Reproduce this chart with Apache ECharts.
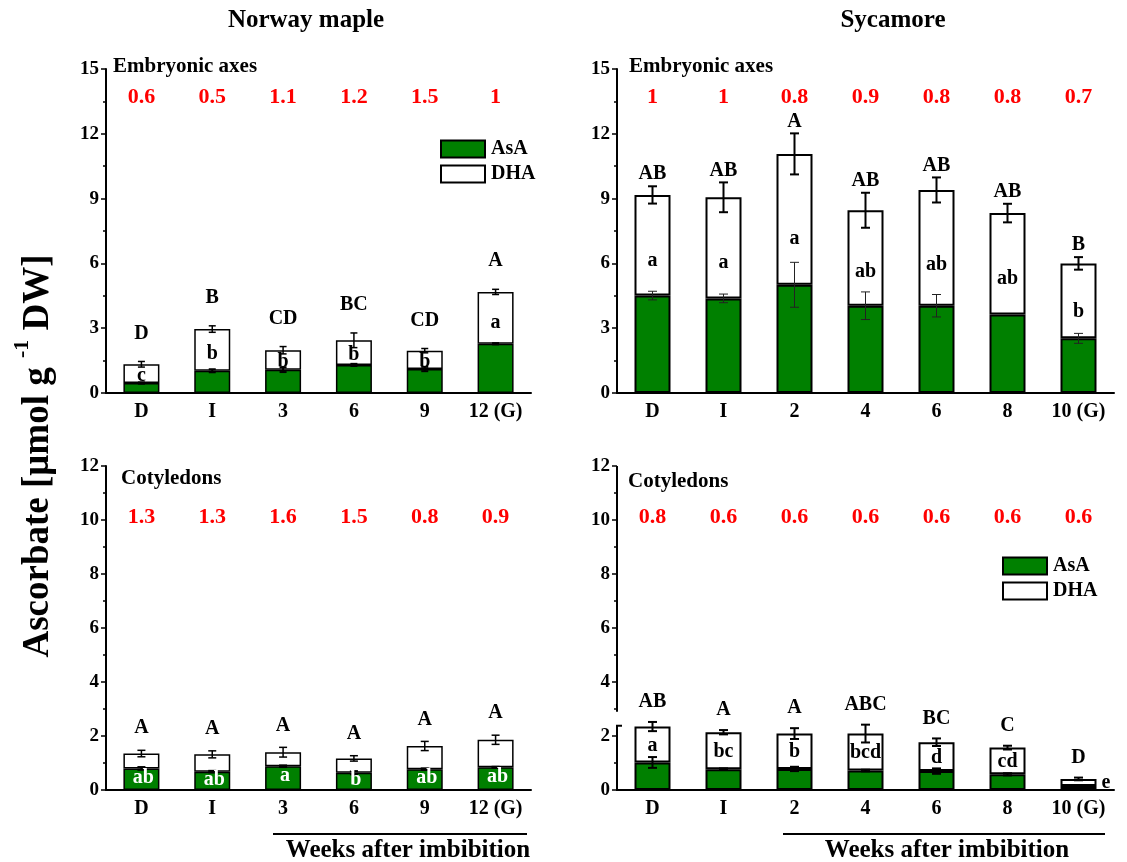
<!DOCTYPE html>
<html>
<head>
<meta charset="utf-8">
<script src="https://cdn.jsdelivr.net/npm/echarts@6/dist/echarts.min.js"></script>
<style>
  html, body { margin: 0; padding: 0; background: #ffffff; }
  #chart { width: 1127px; height: 862px; }
</style>
</head>
<body>
<div id="chart"></div>
<script>
// ---------- Norway maple: embryonic axes ----------
const nmCats = ['D', 'I', '3', '6', '9', '12 (G)'];
const nmAxesAsA = [0.46, 1.03, 1.08, 1.30, 1.11, 2.28];
const nmAxesAsAErr = [0.03, 0.07, 0.11, 0.05, 0.10, 0.03];
const nmAxesTotal = [1.33, 2.96, 1.98, 2.44, 1.96, 4.68];
const nmAxesTotalErr = [0.13, 0.15, 0.17, 0.34, 0.10, 0.12];
const nmAxesUpper = ['D', 'B', 'CD', 'BC', 'CD', 'A'];
const nmAxesLower = ['c', 'b', 'b', 'b', 'b', 'a'];
const nmAxesRatio = ['0.6', '0.5', '1.1', '1.2', '1.5', '1'];

// ---------- Sycamore: embryonic axes ----------
const syCats = ['D', 'I', '2', '4', '6', '8', '10 (G)'];
const syAxesAsA = [4.51, 4.38, 5.01, 4.04, 4.04, 3.63, 2.53];
const syAxesAsAErr = [0.20, 0.20, 1.04, 0.64, 0.52, 0.00, 0.23];
const syAxesTotal = [9.17, 9.06, 11.07, 8.46, 9.40, 8.33, 6.00];
const syAxesTotalErr = [0.40, 0.69, 0.95, 0.81, 0.58, 0.43, 0.29];
const syAxesUpper = ['AB', 'AB', 'A', 'AB', 'AB', 'AB', 'B'];
const syAxesLower = ['a', 'a', 'a', 'ab', 'ab', 'ab', 'b'];
const syAxesRatio = ['1', '1', '0.8', '0.9', '0.8', '0.8', '0.7'];

// ---------- Norway maple: cotyledons ----------
const nmCotAsA = [0.80, 0.68, 0.88, 0.64, 0.77, 0.84];
const nmCotAsAErr = [0.05, 0.03, 0.03, 0.06, 0.03, 0.02];
const nmCotTotal = [1.35, 1.32, 1.40, 1.17, 1.63, 1.86];
const nmCotTotalErr = [0.12, 0.13, 0.18, 0.10, 0.17, 0.17];
const nmCotUpper = ['A', 'A', 'A', 'A', 'A', 'A'];
const nmCotLower = ['ab', 'ab', 'a', 'b', 'ab', 'ab'];
const nmCotRatio = ['1.3', '1.3', '1.6', '1.5', '0.8', '0.9'];

// ---------- Sycamore: cotyledons ----------
const syCotAsA = [1.02, 0.77, 0.78, 0.72, 0.70, 0.58, 0.15];
const syCotAsAErr = [0.20, 0.03, 0.08, 0.03, 0.10, 0.04, 0.02];
const syCotTotal = [2.35, 2.14, 2.09, 2.09, 1.77, 1.57, 0.41];
const syCotTotalErr = [0.17, 0.08, 0.20, 0.33, 0.14, 0.07, 0.05];
const syCotUpper = ['AB', 'A', 'A', 'ABC', 'BC', 'C', 'D'];
const syCotLower = ['a', 'bc', 'b', 'bcd', 'd', 'cd', 'e'];
const syCotRatio = ['0.8', '0.6', '0.6', '0.6', '0.6', '0.6', '0.6'];

// y-axis ticks
const axesTicks = { max: 15, interval: 3 };
const cotTicks = { max: 12, interval: 2 };

const FONT = '"Liberation Serif", "Times New Roman", serif';
const GREEN = '#008000';
const BAR_W = 36;

const panels = [
  { grid: { left: 106, top: 69, width: 425, height: 324 }, cats: nmCats, ticks: axesTicks,
    asa: nmAxesAsA, asaErr: nmAxesAsAErr, total: nmAxesTotal, totalErr: nmAxesTotalErr,
    upper: nmAxesUpper, lower: nmAxesLower, ratio: nmAxesRatio,
    ratioLevel: 13.7, upGap: 28, lowMode: 'dha', lowFrac: 0.4,
    bw: 1.5, errW: 1.5, asaErrW: 2, asaErrColor: '#000', cap: 3.5 },
  { grid: { left: 617, top: 69, width: 497, height: 324 }, cats: syCats, ticks: axesTicks,
    asa: syAxesAsA, asaErr: syAxesAsAErr, total: syAxesTotal, totalErr: syAxesTotalErr,
    upper: syAxesUpper, lower: syAxesLower, ratio: syAxesRatio,
    ratioLevel: 13.7, upGap: 12, lowMode: 'dha', lowFrac: 0.35,
    bw: 2, errW: 2, asaErrW: 1, asaErrColor: '#222', cap: 4.5 },
  { grid: { left: 106, top: 466, width: 425, height: 324 }, cats: nmCats, ticks: cotTicks,
    asa: nmCotAsA, asaErr: nmCotAsAErr, total: nmCotTotal, totalErr: nmCotTotalErr,
    upper: nmCotUpper, lower: nmCotLower, ratio: nmCotRatio,
    ratioLevel: 10.1, upGap: 22, lowMode: 'asa', lowFrac: 0.58,
    bw: 1.5, errW: 1.5, asaErrW: 2, asaErrColor: '#000', cap: 4 },
  { grid: { left: 617, top: 466, width: 497, height: 324 }, cats: syCats, ticks: cotTicks,
    asa: syCotAsA, asaErr: syCotAsAErr, total: syCotTotal, totalErr: syCotTotalErr,
    upper: syCotUpper, lower: syCotLower, ratio: syCotRatio,
    ratioLevel: 10.1, upGap: 20, lowMode: 'dha', lowFrac: 0.47,
    bw: 2, errW: 2, asaErrW: 2, asaErrColor: '#000', cap: 4.5,
    axisBreak: [2.38, 2.9] }
];

function errorBar(cx, yLo, yHi, cap, w, color) {
  const s = { stroke: color, lineWidth: w };
  return [
    { type: 'line', shape: { x1: cx, y1: yLo, x2: cx, y2: yHi }, style: s },
    { type: 'line', shape: { x1: cx - cap, y1: yHi, x2: cx + cap, y2: yHi }, style: s },
    { type: 'line', shape: { x1: cx - cap, y1: yLo, x2: cx + cap, y2: yLo }, style: s }
  ];
}

function txt(text, x, y, opts) {
  return {
    type: 'text', z2: 20,
    style: Object.assign({
      text: text, x: x, y: y, fill: '#000',
      font: 'bold 20px ' + FONT, align: 'center', verticalAlign: 'middle'
    }, opts || {})
  };
}

const grids = [], xAxes = [], yAxes = [], series = [];

panels.forEach((p, g) => {
  grids.push(p.grid);
  xAxes.push({
    type: 'category', gridIndex: g, data: p.cats,
    axisLine: { lineStyle: { color: '#000', width: 2 } },
    axisTick: { alignWithLabel: true, length: 6, lineStyle: { color: '#000', width: 2 } },
    axisLabel: { color: '#000', fontFamily: FONT, fontWeight: 'bold', fontSize: 20, margin: 9 },
    splitLine: { show: false }
  });
  yAxes.push({
    type: 'value', gridIndex: g, min: 0, max: p.ticks.max, interval: p.ticks.interval,
    axisLine: { show: !p.axisBreak, lineStyle: { color: '#000', width: 2 } },
    axisTick: { show: true, length: 5, lineStyle: { color: '#000', width: 1.5 } },
    minorTick: { show: true, splitNumber: 2, length: 3, lineStyle: { color: '#000', width: 1.5 } },
    axisLabel: { color: '#000', fontFamily: FONT, fontWeight: 'bold', fontSize: 19, margin: 7 },
    splitLine: { show: false }
  });

  const barStyle = (color) => ({ color: color, borderColor: '#000', borderWidth: p.bw });
  series.push({
    type: 'bar', name: 'AsA', xAxisIndex: g, yAxisIndex: g, stack: 'st' + g,
    barWidth: BAR_W, data: p.asa, itemStyle: barStyle(GREEN), animation: false
  });
  series.push({
    type: 'bar', name: 'DHA', xAxisIndex: g, yAxisIndex: g, stack: 'st' + g,
    barWidth: BAR_W, data: p.total.map((t, i) => +(t - p.asa[i]).toFixed(3)),
    itemStyle: barStyle('#ffffff'), animation: false
  });

  // error bars, significance letters and AsA/DHA ratios
  series.push({
    type: 'custom', xAxisIndex: g, yAxisIndex: g, z: 10, animation: false, silent: true,
    data: p.asa.map((v, i) => [i, v, p.asaErr[i], p.total[i], p.totalErr[i]]),
    encode: { x: 0, y: 3 },
    renderItem(params, api) {
      const i = api.value(0);
      const asa = api.value(1), ae = api.value(2), tot = api.value(3), te = api.value(4);
      const cx = api.coord([i, 0])[0];
      const y = (v) => api.coord([i, v])[1];
      const kids = [];

      kids.push(...errorBar(cx, y(tot - te), y(tot + te), p.cap, p.errW, '#000'));
      if (ae > 0) kids.push(...errorBar(cx, y(asa - ae), y(asa + ae), p.cap, p.asaErrW, p.asaErrColor));

      kids.push(txt(p.upper[i], cx, y(tot + te) - p.upGap));

      if (p.lowMode === 'asa') {
        kids.push(txt(p.lower[i], cx + 2, y(asa * p.lowFrac), { fill: '#ffffff' }));
      } else if (y(asa) - y(tot) < 14) {
        kids.push(txt(p.lower[i], cx + BAR_W / 2 + 5, y((asa + tot) / 2), { align: 'left' }));
      } else {
        kids.push(txt(p.lower[i], cx, y(asa + (tot - asa) * p.lowFrac)));
      }

      kids.push(txt(p.ratio[i], cx, y(p.ratioLevel), { fill: '#ff0000', font: 'bold 22px ' + FONT }));

      if (p.axisBreak && i === 0) {
        const x0 = params.coordSys.x;
        const s = { stroke: '#000', lineWidth: 2 };
        const lo = y(p.axisBreak[0]), hi = y(p.axisBreak[1]);
        kids.push({ type: 'line', shape: { x1: x0, y1: y(0) + 1, x2: x0, y2: lo }, style: s });
        kids.push({ type: 'line', shape: { x1: x0 - 1, y1: lo, x2: x0 + 5, y2: lo }, style: s });
        kids.push({ type: 'line', shape: { x1: x0, y1: hi, x2: x0, y2: y(p.ticks.max) }, style: s });
      }
      return { type: 'group', children: kids };
    }
  });
});

const legendBase = {
  orient: 'vertical', data: ['AsA', 'DHA'], padding: 0, itemGap: 5,
  itemWidth: 44, itemHeight: 17, icon: 'rect', selectedMode: false,
  itemStyle: { borderColor: '#000', borderWidth: 2 },
  textStyle: { color: '#000', fontFamily: FONT, fontWeight: 'bold', fontSize: 20, padding: [0, 0, 0, 1] }
};

function label(text, x, y, size, align) {
  return {
    type: 'text', x: x, y: y,
    style: { text: text, font: 'bold ' + size + 'px ' + FONT, fill: '#000',
             align: align || 'center', verticalAlign: 'middle' }
  };
}

const graphics = [
  label('Norway maple', 306, 21, 25),
  label('Sycamore', 893, 21, 25),
  label('Embryonic axes', 113, 67, 21, 'left'),
  label('Embryonic axes', 629, 67, 21, 'left'),
  label('Cotyledons', 121, 479, 21, 'left'),
  label('Cotyledons', 628, 482, 21, 'left'),
  label('Weeks after imbibition', 408, 851, 25),
  label('Weeks after imbibition', 947, 851, 25),
  { type: 'line', shape: { x1: 273, y1: 834, x2: 527, y2: 834 }, style: { stroke: '#000', lineWidth: 2 } },
  { type: 'line', shape: { x1: 783, y1: 834, x2: 1105, y2: 834 }, style: { stroke: '#000', lineWidth: 2 } },
  {
    type: 'text', x: 38, y: 456, rotation: Math.PI / 2,
    style: {
      text: '{n|Ascorbate [μmol g }{s|-1}{n| DW]}',
      align: 'center', verticalAlign: 'middle', fill: '#000',
      rich: {
        n: { fontFamily: FONT, fontWeight: 'bold', fontSize: 37, lineHeight: 54, fill: '#000' },
        s: { fontFamily: FONT, fontWeight: 'bold', fontSize: 22, lineHeight: 22, verticalAlign: 'top', fill: '#000' }
      }
    }
  }
];

const chart = echarts.init(document.getElementById('chart'), null, { renderer: 'canvas' });
chart.setOption({
  animation: false,
  backgroundColor: '#ffffff',
  grid: grids,
  xAxis: xAxes,
  yAxis: yAxes,
  legend: [
    Object.assign({ left: 440, top: 139 }, legendBase),
    Object.assign({ left: 1002, top: 556 }, legendBase)
  ],
  series: series,
  graphic: graphics
});
</script>
</body>
</html>
